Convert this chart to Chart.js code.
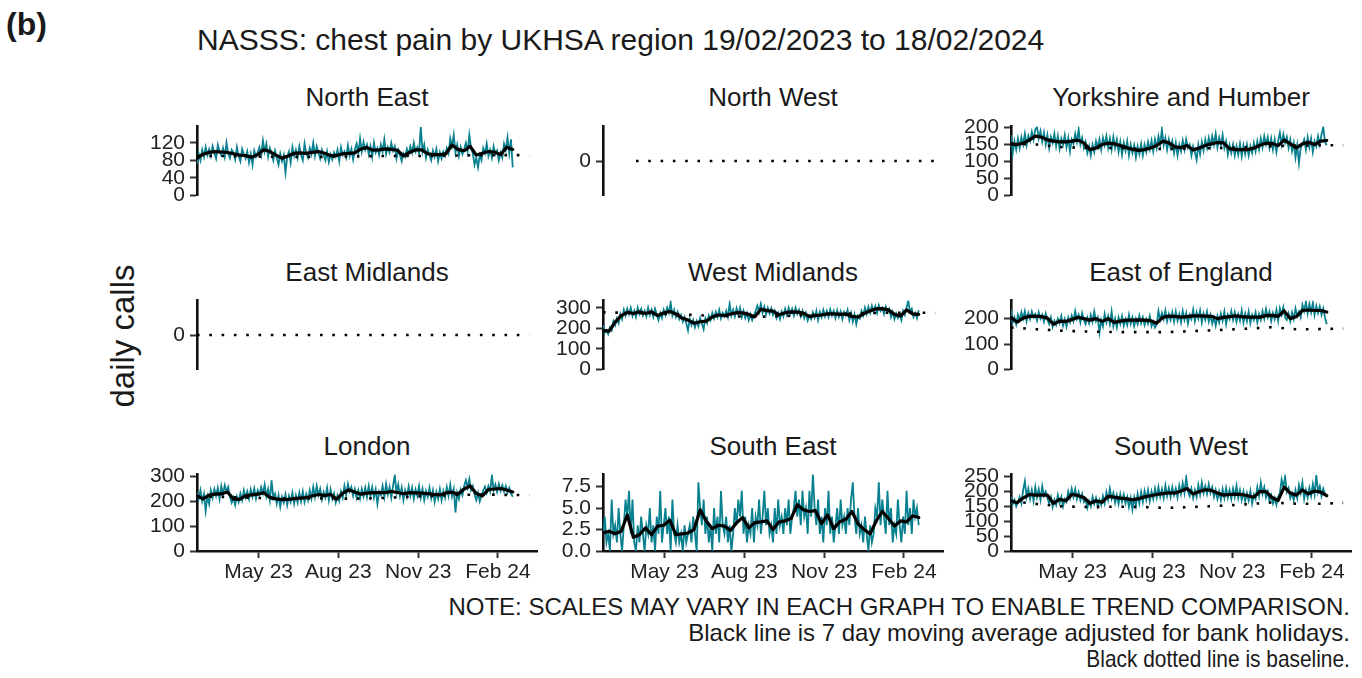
<!DOCTYPE html>
<html><head><meta charset="utf-8">
<script src="https://cdn.jsdelivr.net/npm/chart.js@4.4.1/dist/chart.umd.min.js"></script>
<style>
html,body{margin:0;padding:0;background:#fff;}
#root{position:relative;width:1362px;height:678px;overflow:hidden;font-family:"Liberation Sans",Arial,sans-serif;color:#1a1a1a;}
.t{position:absolute;white-space:nowrap;line-height:1;}
canvas{position:absolute;}
</style></head><body><div id="root">
<div class="t" style="left:6px;top:8px;font-size:32px;font-weight:bold;">(b)</div>
<div class="t" style="left:197px;top:24.6px;font-size:30px;">NASSS: chest pain by UKHSA region 19/02/2023 to 18/02/2024</div>
<div class="t" style="left:122px;top:336px;font-size:33px;transform:translate(-50%,-50%) rotate(-90deg);">daily calls</div>
<div class="t" style="right:12px;top:594.7px;font-size:24px;">NOTE: SCALES MAY VARY IN EACH GRAPH TO ENABLE TREND COMPARISON.</div>
<div class="t" style="right:12px;top:620.7px;font-size:24px;">Black line is 7 day moving average adjusted for bank holidays.</div>
<div class="t" style="right:12px;top:646.7px;font-size:24px;transform:scaleX(0.87);transform-origin:right center;">Black dotted line is baseline.</div>
</div>
<script>
// ---- x axis (days since 19/02/2023) ----
const tickDays = [71, 163, 255, 347];
const tickLabels = ['May 23', 'Aug 23', 'Nov 23', 'Feb 24'];
const dailyStep = 2;   // daily series sampled every 2 days
const maStep = 7;      // moving average read weekly
const baseDays = [0, 30, 60, 90, 120, 150, 180, 210, 240, 270, 300, 330, 360, 383];
const nwBaseDays = [38, 383];
const emBaseDays = [0, 383];

// ---- North East ----
const neDaily = [72,95,80,104,88,110,92,105,
90,112,96,84,115,100,92, 108,88,120,95,85,104,98, 82,110,90,78,106,94,84, 100,75,95,70,102,88,98,
110,92,125,100,118,88,108, 96,80,102,86,70,95,78, 92,52,88,100,75,110,90, 104,85,112,92,80,118,96,
86,108,94,120,90,112,98, 84,104,92,80,100,76,94, 82,98,88,104,78,110,92, 100,86,114,90,106,82,104,
118,96,130,100,122,104,116, 94,112,88,120,98,108,92, 116,100,128,94,110,98,120, 102,112,84,104,92,78,96,
88,106,94,112,98,120,100, 110,96,156,100,116,86,104, 92,80,102,88,106,78,98, 84,100,90,108,96,130,112,
138,98,116,90,110,94,106, 120,100,138,108,96,70,86, 64,92,80,108,96,118,90, 104,86,112,94,102,80,98,
86,118,104,132,96,128,64];
const neMA = [85,94,98,100,99,98,95,92,91,87, 93,104,100,92,85,90,96,97,96,98, 100,96,91,91,95,96,97,106,109,103,
104,106,105,103,90,98,104,104,95,93, 93,95,115,105,102,112,92,96,100,99, 93,110,105];
const neBase = [90,90,89,88,88,88,89,90,90,90,91,92,92,92];
const neTicks = [0, 40, 80, 120];
const neTickLabels = ['0', '40', '80', '120'];

// ---- North West (no data) ----
const nwBase = [0, 0];
const zeroTicks = [0];
const zeroTickLabels = ['0'];

// ---- Yorkshire and Humber ----
const yhDaily = [178,125,160,135,168,140,172,150,
182,148,176,160,188,165,195, 202,168,190,158,185,150,178, 140,172,155,182,145,175,138, 168,150,178,142,170,130,165,
152,182,158,195,150,170,140, 158,125,145,118,150,128,160, 142,165,135,170,148,175,140, 168,135,172,140,165,128,158,
120,155,132,160,118,150,125, 148,112,145,122,152,118,150, 128,158,135,162,130,165,140, 175,150,195,148,170,135,165,
140,160,125,155,118,150,130, 162,135,165,140,150,118,145, 128,105,150,122,158,132,165, 140,170,145,175,150,182,142,
170,148,178,140,160,120,148, 125,150,118,145,120,152,115, 148,122,150,118,145,125,155, 130,160,135,168,142,175,150,
172,140,168,135,165,128,160, 185,150,180,155,172,140,165, 130,155,112,148,95,140,150, 165,135,172,142,168,128,160,
145,175,150,180,202,158,148];
const yhMA = [152,150,154,163,175,172,164,160,158,158, 160,163,155,135,140,150,154,152,147,141, 136,133,135,140,147,160,155,143,141,147,
134,140,147,152,156,155,138,135,135,135, 140,148,154,153,147,163,152,140,152,157, 150,160,162];
const yhBase = [152,150,142,140,140,138,137,138,140,142,145,147,148,148];
const yhTicks = [0, 50, 100, 150, 200];
const yhTickLabels = ['0', '50', '100', '150', '200'];

// ---- East Midlands (no data) ----
const emBase = [0, 0];

// ---- West Midlands ----
const wmDaily = [215,178,190,172,205,190,235,215,
248,225,270,245,290,262,295, 268,300,260,285,255,300,270, 295,262,285,258,300,265,290, 255,295,268,240,275,250,290,
265,300,275,325,262,290,255, 280,245,265,232,255,225,190, 245,215,240,205,235,210,250, 222,195,248,225,262,240,275,
248,280,255,290,248,275,258, 285,255,320,262,290,258,298, 265,300,255,285,250,275,240, 270,240,262,285,310,280,320,
275,305,268,300,272,298,265, 285,250,275,245,282,258,295, 265,300,270,295,262,300,270, 290,258,285,250,275,238,262,
245,278,252,285,240,280,255, 290,258,285,255,292,262,285, 250,288,255,282,245,280,262, 290,240,275,232,268,220,262,
248,285,262,300,270,305,275, 310,282,308,275,312,285,300, 270,305,280,295,255,280,245, 272,250,268,240,285,265,300,
335,280,295,255,275,250,288];
const wmMA = [190,186,230,262,278,272,280,272,280,262, 276,282,270,250,240,225,232,235,255,265, 262,270,276,275,268,256,293,286,284,266,
276,280,279,274,258,262,265,270,270,268, 270,258,255,272,285,295,296,290,268,260, 290,270,268];
const wmBase = [278,275,272,268,262,258,256,260,265,270,274,276,276,276];
const wmTicks = [0, 100, 200, 300];
const wmTickLabels = ['0', '100', '200', '300'];

// ---- East of England ----
const eoeDaily = [235,185,205,178,215,195,225,200,
230,190,222,198,228,205,218, 192,225,200,215,188,220,195, 178,205,168,192,175,200,182, 210,172,198,168,205,185,212,
190,230,198,215,185,222,195, 178,205,182,215,188,228,190, 205,145,195,170,218,185,210, 178,228,170,200,165,205,180,
210,172,198,175,215,180,205, 170,200,178,212,182,205,175, 198,180,210,170,188,165,178, 230,195,222,198,232,190,218,
195,225,188,228,192,218,185, 230,195,222,180,215,198,235, 190,225,200,232,185,220,195, 228,188,215,180,205,172,210,
185,220,192,228,178,215,198, 230,195,225,188,218,192,232, 185,220,190,228,182,215,195, 225,185,218,195,230,200,238,
205,228,190,222,198,235,192, 240,215,245,205,195,220,190, 225,198,240,210,228,205,255, 230,265,220,258,225,262,215,
250,222,248,215,240,205,178];
const eoeMA = [205,186,202,209,210,208,202,178,190,189, 196,205,200,194,200,189,200,185,190,194, 194,195,194,192,182,205,210,209,206,208,
211,211,210,209,200,205,208,211,208,206, 206,206,212,213,209,230,200,208,232,234, 232,232,226];
const eoeBase = [165,158,152,149,147,147,147,151,155,160,166,158,159,161];
const eoeTicks = [0, 100, 200];
const eoeTickLabels = ['0', '100', '200'];

// ---- London ----
const lonDaily = [235,210,245,200,230,162,220,190,
245,215,250,222,255,210,262, 228,265,240,258,220,195,215, 185,220,198,232,205,245,215, 240,210,248,218,252,212,245,
225,258,232,268,220,250,205, 285,212,230,190,225,178,218, 195,228,185,222,198,235,190, 225,195,235,200,240,198,230,
205,245,212,258,218,262,225, 250,208,238,215,255,205,248, 210,232,195,225,202,240,215, 262,225,270,240,258,222,250,
215,245,212,250,220,255,218, 262,222,258,215,248,190,240, 225,262,218,270,228,258,215, 262,305,235,268,222,255,205,
245,218,260,222,255,210,248, 222,262,215,250,205,242,218, 255,212,245,198,238,210,250, 205,242,215,258,222,268,220,
250,155,235,210,248,225,262, 285,255,290,245,262,228,205, 235,200,222,245,260,235,262, 240,305,245,268,238,270,242,
265,240,262,235,255,232,218];
const lonMA = [222,210,225,229,230,238,210,208,222,226, 229,235,216,210,207,208,211,213,215,222, 228,223,228,209,233,246,238,229,233,235,
235,235,240,236,231,235,234,233,231,228, 226,234,237,230,250,262,232,222,248,250, 252,246,238];
const lonBase = [220,218,215,212,212,212,211,213,218,222,226,228,226,225];
const lonTicks = [0, 100, 200, 300];
const lonTickLabels = ['0', '100', '200', '300'];

// ---- South East ----
const seDaily = [2,4,1,2,0,6,2,3,
1,5,2,0,3,6,4, 7,2,6,1,0,3,1, 4,2,0,3,2,5,1, 3,0,4,2,7,1,3,
5,2,4,0,6,2,1, 3,1,2,0,3,1,2, 3,1,4,2,0,8,5, 3,6,2,4,1,3,0,
5,2,4,1,7,3,2, 4,1,3,0,2,5,3, 6,4,7,2,4,1,3, 2,5,1,4,3,6,2,
4,7,3,5,2,3,1, 5,2,6,3,4,2,5, 3,6,2,4,5,7,4, 6,3,7,4,5,2,7,
4,9,5,3,6,2,4, 1,5,3,7,2,4,1, 3,5,2,6,3,4,2, 5,3,6,8,4,2,5,
2,3,1,4,2,0,3, 1,2,5,4,8,3,6, 4,2,7,3,5,1,3, 2,6,3,1,4,2,7,
3,5,2,6,4,5,3];
const seMA = [2.1,2.3,2.0,2.3,4.2,1.6,1.9,2.7,1.9,2.9, 3.0,3.6,1.9,2.0,2.1,2.5,4.8,3.5,2.6,3.0, 2.9,2.4,3.3,3.9,2.7,3.3,3.4,3.5,2.5,3.4,
3.5,3.8,5.4,4.8,4.6,4.7,3.2,4.2,2.6,3.4, 3.7,4.6,3.2,2.5,2.0,3.5,4.6,3.8,2.9,3.5, 3.4,4.1,3.9];
const seTicks = [0, 2.5, 5, 7.5];
const seTickLabels = ['0.0', '2.5', '5.0', '7.5'];

// ---- South West ----
const swDaily = [182,158,172,150,165,182,160,205,
235,182,210,175,205,168,215, 180,208,172,218,185,200,178, 160,182,148,172,155,188,162, 182,150,175,165,200,178,210,
182,208,175,198,170,192,165, 175,145,168,150,182,158,178, 150,172,155,185,160,198,172, 210,175,195,162,188,158,192,
165,190,160,182,148,178,140, 180,152,192,160,198,165,202, 172,205,168,200,175,210,180, 215,182,208,178,220,185,212,
182,215,188,210,180,220,192, 228,195,248,200,185,210,178, 205,182,222,190,230,195,218, 192,225,195,215,182,205,175,
200,172,208,178,212,180,205, 175,210,182,220,178,205,172, 200,168,195,170,202,160,190, 175,215,185,230,192,215,180,
200,168,188,160,178,155,182, 195,240,215,250,198,212,178, 195,170,205,178,222,195,230, 175,205,180,212,185,225,190,
255,198,218,185,210,192,182];
const swMA = [169,162,178,190,188,188,188,160,174,169, 190,187,180,160,169,164,184,181,178,176, 172,176,182,186,190,193,196,195,202,210,
192,200,206,204,195,188,190,191,190,186, 181,200,200,180,170,215,195,188,205,192, 202,198,186];
const swBase = [168,158,150,148,149,148,145,148,152,157,163,159,159,162];
const swTicks = [0, 50, 100, 150, 200, 250];
const swTickLabels = ['0', '50', '100', '150', '200', '250'];

// ---- layout / style ----
const FONT = '"Liberation Sans", Arial, sans-serif';
const TEAL = '#08808f';
const colLeft = [197, 603, 1011];
const rowTop = [123, 297, 471];
const panelW = 340, panelH = 80, axisW = 80, padTop = 14, padRight = 10, xAxisH = 40;
const xMax = 392;

const panels = [
  {title:'North East', col:0, row:0, daily:neDaily, ma:neMA, base:neBase, baseX:baseDays, yMin:0, yMax:157, yTicks:neTicks, yLabels:neTickLabels},
  {title:'North West', col:1, row:0, daily:null, ma:null, base:nwBase, baseX:nwBaseDays, yMin:-1, yMax:1, yTicks:zeroTicks, yLabels:zeroTickLabels},
  {title:'Yorkshire and Humber', col:2, row:0, daily:yhDaily, ma:yhMA, base:yhBase, baseX:baseDays, yMin:0, yMax:203, yTicks:yhTicks, yLabels:yhTickLabels},
  {title:'East Midlands', col:0, row:1, daily:null, ma:null, base:emBase, baseX:emBaseDays, yMin:-1, yMax:1, yTicks:zeroTicks, yLabels:zeroTickLabels},
  {title:'West Midlands', col:1, row:1, daily:wmDaily, ma:wmMA, base:wmBase, baseX:baseDays, yMin:0, yMax:335, yTicks:wmTicks, yLabels:wmTickLabels},
  {title:'East of England', col:2, row:1, daily:eoeDaily, ma:eoeMA, base:eoeBase, baseX:baseDays, yMin:0, yMax:271, yTicks:eoeTicks, yLabels:eoeTickLabels},
  {title:'London', col:0, row:2, daily:lonDaily, ma:lonMA, base:lonBase, baseX:baseDays, yMin:0, yMax:308, yTicks:lonTicks, yLabels:lonTickLabels},
  {title:'South East', col:1, row:2, daily:seDaily, ma:seMA, base:null, baseX:null, yMin:0, yMax:8.9, yTicks:seTicks, yLabels:seTickLabels},
  {title:'South West', col:2, row:2, daily:swDaily, ma:swMA, base:swBase, baseX:baseDays, yMin:0, yMax:257, yTicks:swTicks, yLabels:swTickLabels}
];

const root = document.getElementById('root');
const titleBase = [106, 281, 455];

panels.forEach(p => {
  const bottom = p.row === 2;
  const L = colLeft[p.col], T = rowTop[p.row];
  // strip title
  const t = document.createElement('div');
  t.className = 't';
  t.textContent = p.title;
  t.style.fontSize = '26px';
  t.style.left = (L + panelW / 2) + 'px';
  t.style.top = (titleBase[p.row] - 22) + 'px';
  t.style.transform = 'translateX(-50%)';
  root.appendChild(t);

  const cv = document.createElement('canvas');
  const w = axisW + panelW + padRight;
  const h = padTop + panelH + (bottom ? xAxisH : 10);
  cv.width = w; cv.height = h;
  cv.style.width = w + 'px'; cv.style.height = h + 'px';
  cv.style.left = (L - axisW) + 'px';
  cv.style.top = (T - padTop) + 'px';
  root.appendChild(cv);

  const datasets = [];
  if (p.daily) datasets.push({data: p.daily.map((v, i) => ({x: i * dailyStep, y: v})),
    borderColor: TEAL, borderWidth: 1.8, pointRadius: 0, order: 3});
  if (p.base) datasets.push({data: p.base.map((v, i) => ({x: p.baseX[i], y: v})),
    borderColor: '#000', borderWidth: 2.6, borderDash: [2.6, 9.7], borderCapStyle: 'butt', pointRadius: 0, order: 2});
  if (p.ma) datasets.push({data: p.ma.map((v, i) => ({x: i * maStep, y: v})),
    borderColor: '#000', borderWidth: 3.2, borderJoinStyle: 'round', borderCapStyle: 'round', pointRadius: 0, order: 1});

  const tickFont = {family: FONT, size: 21};
  new Chart(cv, {
    type: 'line',
    data: {datasets},
    options: {
      responsive: false, animation: false, events: [],
      layout: {padding: {top: padTop, left: 0, right: padRight, bottom: bottom ? 0 : 10}},
      plugins: {legend: {display: false}, tooltip: {enabled: false}},
      elements: {line: {tension: 0}, point: {radius: 0}},
      scales: {
        x: {
          type: 'linear', min: 0, max: xMax, display: bottom,
          afterBuildTicks: s => { s.ticks = tickDays.map(v => ({value: v})); },
          afterFit: s => { if (bottom) s.height = xAxisH; },
          ticks: {autoSkip: false, maxRotation: 0, padding: 2, color: '#222', font: tickFont,
                  callback: v => tickLabels[tickDays.indexOf(v)]},
          grid: {display: true, drawOnChartArea: false, drawTicks: true, tickLength: 7, tickColor: '#333', tickWidth: 2},
          border: {display: true, color: '#111', width: 2.6}
        },
        y: {
          type: 'linear', min: p.yMin, max: p.yMax,
          afterBuildTicks: s => { s.ticks = p.yTicks.map(v => ({value: v})); },
          afterFit: s => { s.width = axisW; },
          ticks: {autoSkip: false, padding: 5, color: '#222', font: tickFont,
                  callback: v => p.yLabels[p.yTicks.indexOf(v)]},
          grid: {display: true, drawOnChartArea: false, drawTicks: true, tickLength: 7, tickColor: '#333', tickWidth: 2},
          border: {display: true, color: '#111', width: 2.6}
        }
      }
    }
  });
});
</script>
</body></html>
